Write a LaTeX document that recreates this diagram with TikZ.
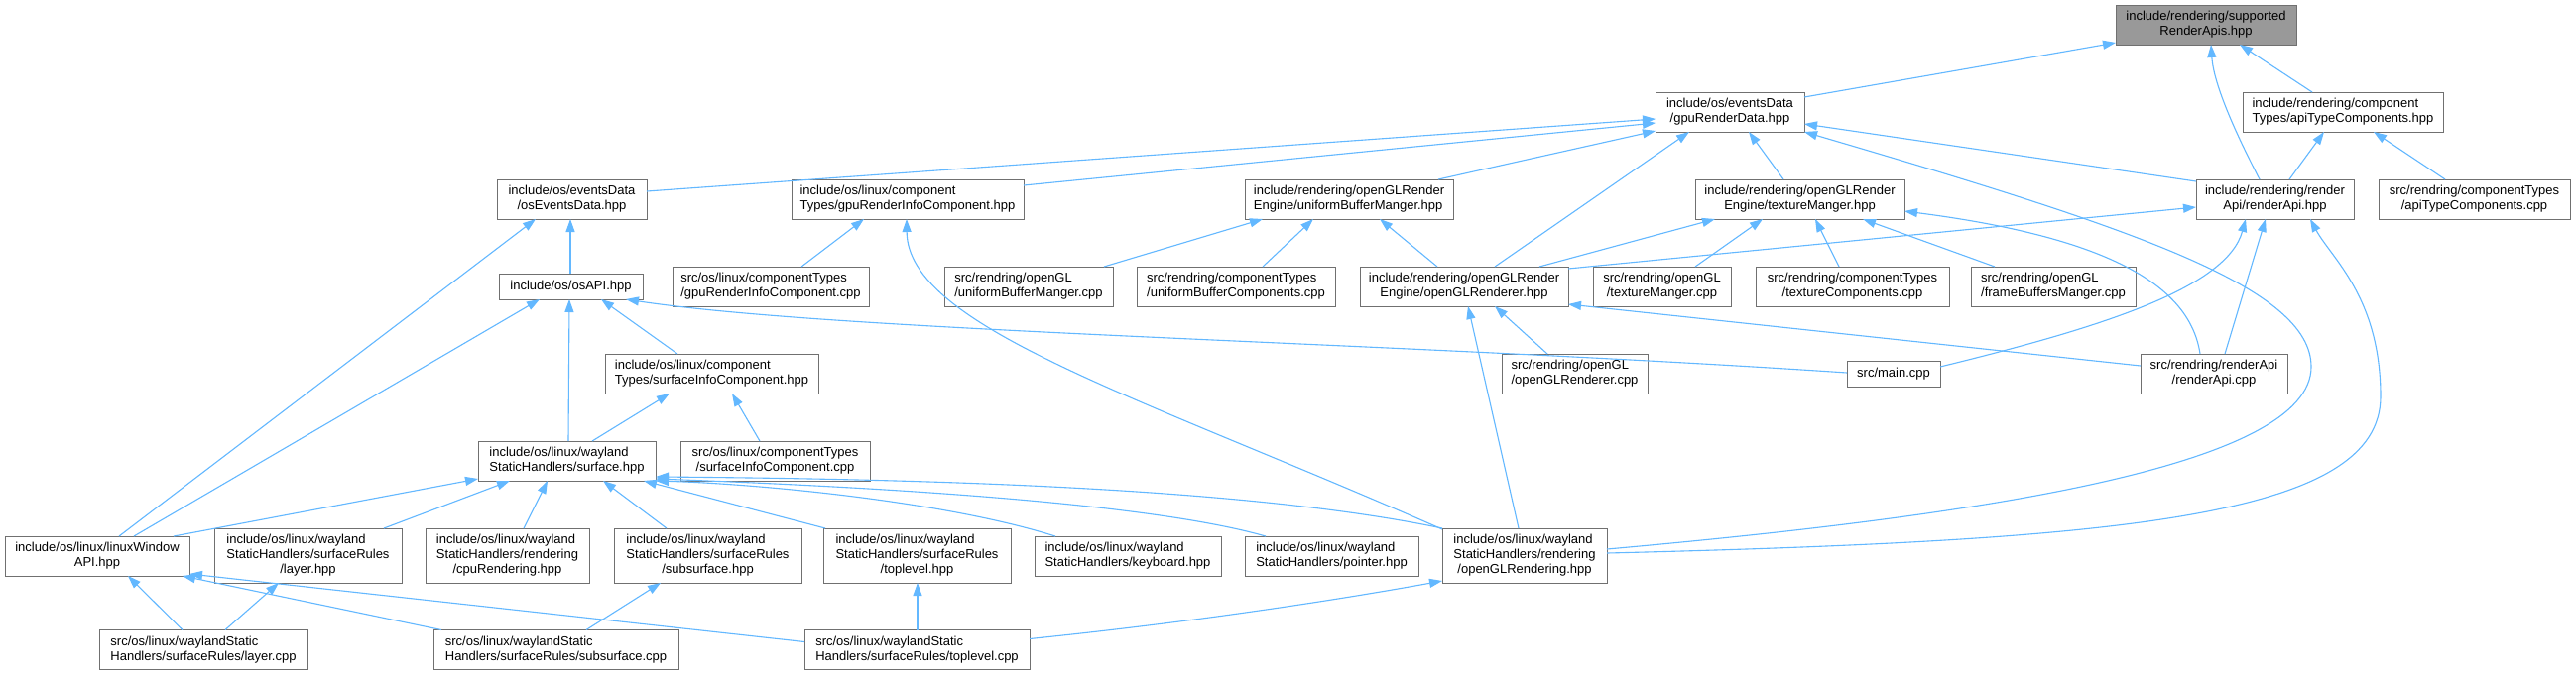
\documentclass[tikz,border=0pt]{standalone}
\usepackage{fontspec}
\setmainfont{Liberation Sans}
\usetikzlibrary{arrows.meta}
\definecolor{edgec}{HTML}{63B8FF}
\definecolor{boxline}{HTML}{707070}
\definecolor{rootfill}{HTML}{999999}
\newcommand\doxL[1]{\begin{tabular}{@{}l@{}}#1\end{tabular}}
\newcommand\doxC[1]{\begin{tabular}{@{}c@{}}#1\end{tabular}}
\newcommand\doxM[1]{\multicolumn{1}{@{}c@{}}{#1}}
\tikzset{
 box/.style={draw=boxline, fill=white, line width=1pt, inner sep=0pt, outer sep=0pt, font=\fontsize{13}{15}\selectfont, minimum height=40pt},
 rootbox/.style={box, fill=rootfill},
 edge/.style={draw=edgec, line width=1.1pt, -{Triangle[length=13pt,width=9pt]}},
}
\begin{document}
\begin{tikzpicture}[x=1pt,y=-1pt]
\fill[white] (0,0) rectangle (2597,681);
\useasboundingbox (0,0) rectangle (2597,681);
% row 0
\node[rootbox, minimum width=182pt] (root) at (2224,25) {\doxC{include/rendering/supported\\RenderApis.hpp}};
% row 1
\node[box, minimum width=150pt] (gpuRD) at (1744,113) {\doxC{include/os/eventsData\\/gpuRenderData.hpp}};
\node[box, minimum width=202pt] (apiTCh) at (2362,113) {\doxL{include/rendering/component\\Types/apiTypeComponents.hpp}};
% row 2
\node[box, minimum width=151pt] (osED) at (576.5,201) {\doxC{include/os/eventsData\\/osEventsData.hpp}};
\node[box, minimum width=234pt] (gpuRICh) at (915,201) {\doxL{include/os/linux/component\\Types/gpuRenderInfoComponent.hpp}};
\node[box, minimum width=210pt] (ubmh) at (1360,201) {\doxL{include/rendering/openGLRender\\Engine/uniformBufferManger.hpp}};
\node[box, minimum width=211pt] (tmh) at (1814.5,201) {\doxC{include/rendering/openGLRender\\Engine/textureManger.hpp}};
\node[box, minimum width=159pt] (rah) at (2293.5,201) {\doxC{include/rendering/render\\Api/renderApi.hpp}};
\node[box, minimum width=193pt] (apiTCcpp) at (2494.5,201) {\doxC{src/rendring/componentTypes\\/apiTypeComponents.cpp}};
% row 3
\node[box, minimum width=145pt, minimum height=26pt] (osAPI) at (575.5,289) {include/os/osAPI.hpp};
\node[box, minimum width=198pt] (gpuRICcpp) at (777,289) {\doxL{src/os/linux/componentTypes\\/gpuRenderInfoComponent.cpp}};
\node[box, minimum width=170pt] (ubmcpp) at (1037,289) {\doxL{src/rendring/openGL\\/uniformBufferManger.cpp}};
\node[box, minimum width=200pt] (ubccpp) at (1246,289) {\doxL{src/rendring/componentTypes\\/uniformBufferComponents.cpp}};
\node[box, minimum width=210pt] (glrh) at (1476,289) {\doxC{include/rendering/openGLRender\\Engine/openGLRenderer.hpp}};
\node[box, minimum width=139pt] (tmcpp) at (1675.5,289) {\doxC{src/rendring/openGL\\/textureManger.cpp}};
\node[box, minimum width=195pt] (tccpp) at (1867.5,289) {\doxC{src/rendring/componentTypes\\/textureComponents.cpp}};
\node[box, minimum width=166pt] (fbmcpp) at (2070,289) {\doxL{src/rendring/openGL\\/frameBuffersManger.cpp}};
% row 4
\node[box, minimum width=215pt] (sich) at (717.5,377) {\doxL{include/os/linux/component\\Types/surfaceInfoComponent.hpp}};
\node[box, minimum width=147pt] (glrcpp) at (1587.5,377) {\doxL{src/rendring/openGL\\/openGLRenderer.cpp}};
\node[box, minimum width=94pt, minimum height=26pt] (main) at (1909,377) {src/main.cpp};
\node[box, minimum width=148pt] (racpp) at (2232,377) {\doxC{src/rendring/renderApi\\/renderApi.cpp}};
% row 5
\node[box, minimum width=179pt] (surfh) at (571.5,465) {\doxL{include/os/linux/wayland\\StaticHandlers/surface.hpp}};
\node[box, minimum width=191pt] (siccpp) at (781.5,465) {\doxC{src/os/linux/componentTypes\\/surfaceInfoComponent.cpp}};
% row 6
\node[box, minimum width=186pt] (lwa) at (98,561) {\doxC{include/os/linux/linuxWindow\\API.hpp}};
\node[box, minimum width=189pt, minimum height=55pt] (layerh) at (310.5,560.5) {\doxL{include/os/linux/wayland\\StaticHandlers/surfaceRules\\\doxM{/layer.hpp}}};
\node[box, minimum width=165pt, minimum height=55pt] (cpuh) at (511.5,560.5) {\doxL{include/os/linux/wayland\\StaticHandlers/rendering\\\doxM{/cpuRendering.hpp}}};
\node[box, minimum width=189pt, minimum height=55pt] (subsh) at (713.5,560.5) {\doxL{include/os/linux/wayland\\StaticHandlers/surfaceRules\\\doxM{/subsurface.hpp}}};
\node[box, minimum width=189pt, minimum height=55pt] (toph) at (924.5,560.5) {\doxL{include/os/linux/wayland\\StaticHandlers/surfaceRules\\\doxM{/toplevel.hpp}}};
\node[box, minimum width=188pt] (kbh) at (1137,561) {\doxL{include/os/linux/wayland\\StaticHandlers/keyboard.hpp}};
\node[box, minimum width=175pt] (ptrh) at (1342.5,561) {\doxL{include/os/linux/wayland\\StaticHandlers/pointer.hpp}};
\node[box, minimum width=166pt, minimum height=55pt] (oglrh) at (1537,560.5) {\doxL{include/os/linux/wayland\\StaticHandlers/rendering\\\doxM{/openGLRendering.hpp}}};
% row 7
\node[box, minimum width=210pt] (layercpp) at (205,655.5) {\doxL{src/os/linux/waylandStatic\\Handlers/surfaceRules/layer.cpp}};
\node[box, minimum width=247pt] (subscpp) at (560.5,655.5) {\doxL{src/os/linux/waylandStatic\\Handlers/surfaceRules/subsurface.cpp}};
\node[box, minimum width=227pt] (topcpp) at (924.5,655.5) {\doxL{src/os/linux/waylandStatic\\Handlers/surfaceRules/toplevel.cpp}};
% edges
\draw[edge] ([shift={(150,5)}]gpuRD.north west) -- ([shift={(0,38)}]root.north west);
\draw[edge] ([shift={(64,0)}]rah.north west) .. controls (2262,150) and (2232,90) .. ([shift={(96,40)}]root.north west);
\draw[edge] ([shift={(70,0)}]apiTCh.north west) -- ([shift={(125,40)}]root.north west);
\draw[edge] ([shift={(151,12)}]osED.north west) -- ([shift={(0,27)}]gpuRD.north west);
\draw[edge] ([shift={(234,6)}]gpuRICh.north west) -- ([shift={(0,31)}]gpuRD.north west);
\draw[edge] ([shift={(195,0)}]ubmh.north west) -- ([shift={(0,39)}]gpuRD.north west);
\draw[edge] ([shift={(136,0)}]glrh.north west) -- ([shift={(34,40)}]gpuRD.north west);
\draw[edge] ([shift={(89,0)}]tmh.north west) -- ([shift={(94,40)}]gpuRD.north west);
\draw[edge] ([shift={(0,2)}]rah.north west) -- ([shift={(150,32)}]gpuRD.north west);
\draw[edge] ([shift={(166,21)}]oglrh.north west) .. controls (2000,520) and (2330,470) .. (2330,370) .. controls (2330,290) and (2150,230) .. ([shift={(150,40)}]gpuRD.north west);
\draw[edge] ([shift={(166,25)}]oglrh.north west) .. controls (2150,545) and (2400,520) .. (2400,400) .. controls (2400,300) and (2350,260) .. ([shift={(115,40)}]rah.north west);
\draw[edge] ([shift={(94,0)}]rah.north west) -- ([shift={(82,40)}]apiTCh.north west);
\draw[edge] ([shift={(67,0)}]apiTCcpp.north west) -- ([shift={(132,40)}]apiTCh.north west);
\draw[edge] ([shift={(115,0)}]lwa.north west) -- ([shift={(39,40)}]osED.north west);
\draw[edge] ([shift={(72,0)}]osAPI.north west) -- ([shift={(74,40)}]osED.north west);
\draw[edge] ([shift={(130,0)}]gpuRICcpp.north west) -- ([shift={(73,40)}]gpuRICh.north west);
\draw[edge] ([shift={(0,1)}]oglrh.north west) .. controls (1150,400) and (915,330) .. ([shift={(116,40)}]gpuRICh.north west);
\draw[edge] ([shift={(161,0)}]ubmcpp.north west) -- ([shift={(18,40)}]ubmh.north west);
\draw[edge] ([shift={(127,0)}]ubccpp.north west) -- ([shift={(69,40)}]ubmh.north west);
\draw[edge] ([shift={(78,0)}]glrh.north west) -- ([shift={(136,40)}]ubmh.north west);
\draw[edge] ([shift={(181,0)}]glrh.north west) -- ([shift={(20,40)}]tmh.north west);
\draw[edge] ([shift={(103,0)}]tmcpp.north west) -- ([shift={(68,40)}]tmh.north west);
\draw[edge] ([shift={(84,0)}]tccpp.north west) -- ([shift={(121,40)}]tmh.north west);
\draw[edge] ([shift={(24,0)}]fbmcpp.north west) -- ([shift={(169,40)}]tmh.north west);
\draw[edge] ([shift={(60,0)}]racpp.north west) .. controls (2208,290) and (2130,240) .. ([shift={(211,32)}]tmh.north west);
\draw[edge] ([shift={(210,2)}]glrh.north west) -- ([shift={(0,28)}]rah.north west);
\draw[edge] ([shift={(94,6)}]main.north west) .. controls (2120,330) and (2245,290) .. ([shift={(50,40)}]rah.north west);
\draw[edge] ([shift={(85,0)}]racpp.north west) -- ([shift={(70,40)}]rah.north west);
\draw[edge] ([shift={(46,0)}]glrcpp.north west) -- ([shift={(136,40)}]glrh.north west);
\draw[edge] ([shift={(0,12)}]racpp.north west) -- ([shift={(210,38)}]glrh.north west);
\draw[edge] ([shift={(77,0)}]oglrh.north west) -- ([shift={(109,40)}]glrh.north west);
\draw[edge] ([shift={(0,12)}]main.north west) .. controls (1400,345) and (850,335) .. ([shift={(128,26)}]osAPI.north west);
\draw[edge] ([shift={(73,0)}]sich.north west) -- ([shift={(103,26)}]osAPI.north west);
\draw[edge] ([shift={(91,0)}]surfh.north west) -- ([shift={(71,26)}]osAPI.north west);
\draw[edge] ([shift={(130,0)}]lwa.north west) -- ([shift={(41,26)}]osAPI.north west);
\draw[edge] ([shift={(115,0)}]surfh.north west) -- ([shift={(65,40)}]sich.north west);
\draw[edge] ([shift={(80,0)}]siccpp.north west) -- ([shift={(128,40)}]sich.north west);
\draw[edge] ([shift={(170,0)}]lwa.north west) -- ([shift={(0,38)}]surfh.north west);
\draw[edge] ([shift={(171,0)}]layerh.north west) -- ([shift={(32,40)}]surfh.north west);
\draw[edge] ([shift={(99,0)}]cpuh.north west) -- ([shift={(70,40)}]surfh.north west);
\draw[edge] ([shift={(53,0)}]subsh.north west) -- ([shift={(126,40)}]surfh.north west);
\draw[edge] ([shift={(2,0)}]toph.north west) -- ([shift={(167,40)}]surfh.north west);
\draw[edge] ([shift={(21,0)}]kbh.north west) .. controls (950,505) and (760,488) .. ([shift={(179,40)}]surfh.north west);
\draw[edge] ([shift={(21,0)}]ptrh.north west) .. controls (1150,505) and (850,490) .. ([shift={(179,38)}]surfh.north west);
\draw[edge] (oglrh.north west) .. controls (1250,490) and (900,483) .. ([shift={(179,36)}]surfh.north west);
\draw[edge] ([shift={(84,0)}]layercpp.north west) -- ([shift={(124,40)}]lwa.north west);
\draw[edge] ([shift={(8,0)}]subscpp.north west) -- ([shift={(179,40)}]lwa.north west);
\draw[edge] ([shift={(0,12)}]topcpp.north west) -- ([shift={(186,38)}]lwa.north west);
\draw[edge] ([shift={(127,0)}]layercpp.north west) -- ([shift={(65,55)}]layerh.north west);
\draw[edge] ([shift={(154,0)}]subscpp.north west) -- ([shift={(47,55)}]subsh.north west);
\draw[edge] ([shift={(114,0)}]topcpp.north west) -- ([shift={(95,55)}]toph.north west);
\draw[edge] ([shift={(227,9)}]topcpp.north west) .. controls (1200,628) and (1350,605) .. ([shift={(0,53)}]oglrh.north west);
\end{tikzpicture}
\end{document}
